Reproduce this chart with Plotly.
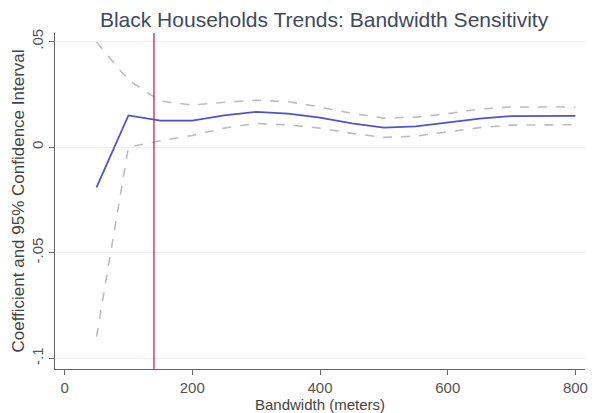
import plotly.graph_objects as go

bandwidth = [50, 100, 150, 200, 250, 300, 350, 400, 450, 500, 550, 600, 650, 700, 750, 800]
coef = [-0.019, 0.0150, 0.0125, 0.0125, 0.0150, 0.0167, 0.0158, 0.0140, 0.0112, 0.0092,
        0.0098, 0.0115, 0.0135, 0.0147, 0.0148, 0.0148]
ci_upper = [0.0497, 0.0317, 0.0218, 0.0199, 0.0212, 0.0222, 0.0215, 0.0190, 0.0160, 0.0137,
            0.0142, 0.0158, 0.0180, 0.0190, 0.0190, 0.0190]
ci_lower = [-0.0897, 0.0000, 0.0030, 0.0055, 0.0090, 0.0112, 0.0105, 0.0090, 0.0065, 0.0046,
            0.0052, 0.0072, 0.0092, 0.0104, 0.0106, 0.0106]
chosen_bandwidth = 140

x_ticks = [0, 200, 400, 600, 800]
y_ticks = [-0.1, -0.05, 0, 0.05]
y_tick_labels = ["-.1", "-.05", "0", ".05"]

FONT = "Liberation Sans, Arial, sans-serif"

fig = go.Figure()
fig.add_trace(go.Scatter(x=bandwidth, y=ci_upper, mode="lines",
                         line=dict(color="#bdbdbd", width=1.6, dash="dash"), showlegend=False))
fig.add_trace(go.Scatter(x=bandwidth, y=ci_lower, mode="lines",
                         line=dict(color="#bdbdbd", width=1.6, dash="dash"), showlegend=False))
fig.add_trace(go.Scatter(x=bandwidth, y=coef, mode="lines",
                         line=dict(color="#5252cc", width=1.8), showlegend=False))
fig.add_vline(x=chosen_bandwidth, line=dict(color="#c8284a", width=1.3))

# page body has an 8px default margin, so the figure is 8px smaller than the window
fig.update_layout(
    width=588, height=405,
    margin=dict(l=47, r=11, t=25, b=44),
    paper_bgcolor="white", plot_bgcolor="white",
    font=dict(family=FONT, color="#444444"),
    title=dict(text="Black Households Trends: Bandwidth Sensitivity",
               x=0.5375, xanchor="center", y=0.99, yanchor="top",
               font=dict(size=21, color="#3e4a5c", family=FONT)),
    xaxis=dict(range=[-15, 815], tickvals=x_ticks, ticks="outside", ticklen=5,
               tickcolor="#666666", showline=True, linecolor="#666666", linewidth=1,
               showgrid=False, zeroline=False, automargin=False,
               tickfont=dict(size=15, color="#555555"),
               title=dict(text="Bandwidth (meters)", font=dict(size=15, color="#444444"),
                          standoff=0)),
    yaxis=dict(range=[-0.105, 0.054], tickvals=y_ticks, ticktext=y_tick_labels,
               tickangle=-90, ticks="outside", ticklen=5, tickcolor="#666666",
               showline=True, linecolor="#666666", linewidth=1,
               showgrid=True, gridcolor="#eeeeee", gridwidth=1, zeroline=False,
               automargin=False,
               tickfont=dict(size=15, color="#555555"),
               title=dict(text="Coefficient and 95% Confidence Interval",
                          font=dict(size=17, color="#444444"), standoff=0)),
)

fig.write_html("out.html")
